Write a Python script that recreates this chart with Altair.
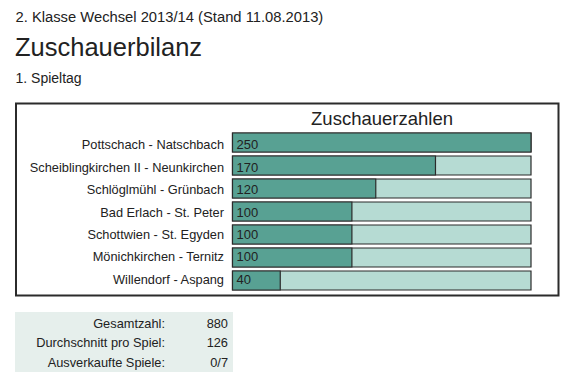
import altair as alt
import pandas as pd

# ---- data ----
matches = [
    "Pottschach - Natschbach",
    "Scheiblingkirchen II - Neunkirchen",
    "Schlöglmühl - Grünbach",
    "Bad Erlach - St. Peter",
    "Schottwien - St. Egyden",
    "Mönichkirchen - Ternitz",
    "Willendorf - Aspang",
]
spectators = [250, 170, 120, 100, 100, 100, 40]
max_value = 250

summary_labels = ["Gesamtzahl:", "Durchschnitt pro Spiel:", "Ausverkaufte Spiele:"]
summary_values = ["880", "126", "0/7"]

supertitle = "2. Klasse Wechsel 2013/14 (Stand 11.08.2013)"
main_title = "Zuschauerbilanz"
subtitle = "1. Spieltag"
chart_title = "Zuschauerzahlen"

FONT = "Liberation Sans, Arial, sans-serif"
DARK = "#58a193"
LIGHT = "#b6dbd3"
EDGE = "#2b2b2b"
TEXT = "#222222"

X0 = 8  # page margin
Y0 = 8


def px(v):
    return v - X0


def py(v):
    return v - Y0


df = pd.DataFrame({"match": matches, "value": spectators})
df["zero"] = 0
df["full"] = max_value
df["label"] = df["value"].astype(str)

sdf = pd.DataFrame({"label": summary_labels, "val": summary_values})

xs = alt.Scale(domain=[0, max_value], range=[px(232.5), px(531)], nice=False, zero=True)
ys = alt.Scale(domain=matches, range=[py(133), py(290)], paddingInner=4 / 23, paddingOuter=0)

base = alt.Chart(df)

frame = alt.Chart(pd.DataFrame({"k": [0]})).mark_rect(
    fill="white", stroke=EDGE, strokeWidth=2
).encode(x=alt.value(px(16)), x2=alt.value(px(558.5)), y=alt.value(py(103.5)), y2=alt.value(py(295.5)))

bg = base.mark_rect(fill=LIGHT, stroke=EDGE, strokeWidth=1.2).encode(
    x=alt.X("zero:Q", scale=xs, axis=None),
    x2="full:Q",
    y=alt.Y("match:N", scale=ys, axis=None, sort=matches),
)

fg = base.mark_rect(fill=DARK, stroke=EDGE, strokeWidth=1.2).encode(
    x=alt.X("zero:Q", scale=xs, axis=None),
    x2="value:Q",
    y=alt.Y("match:N", scale=ys, axis=None, sort=matches),
)

vals = base.mark_text(
    align="left", baseline="middle", dx=4, dy=1, font=FONT, fontSize=13, color=TEXT
).encode(
    x=alt.X("zero:Q", scale=xs, axis=None),
    y=alt.Y("match:N", scale=ys, axis=None, sort=matches),
    text="label:N",
)

names = base.mark_text(
    align="right", baseline="middle", dy=1, font=FONT, fontSize=12.8, color=TEXT
).encode(
    x=alt.value(px(224)),
    y=alt.Y("match:N", scale=ys, axis=None, sort=matches),
    text="match:N",
)

ctitle = alt.Chart(pd.DataFrame({"t": [chart_title]})).mark_text(
    align="center", baseline="alphabetic", font=FONT, fontSize=18.5, color=TEXT
).encode(x=alt.value(px(382)), y=alt.value(py(125)), text="t:N")

t1 = alt.Chart(pd.DataFrame({"t": [supertitle]})).mark_text(
    align="left", baseline="alphabetic", font=FONT, fontSize=14.75, color=TEXT
).encode(x=alt.value(px(15.5)), y=alt.value(py(21.5)), text="t:N")

t2 = alt.Chart(pd.DataFrame({"t": [main_title]})).mark_text(
    align="left", baseline="alphabetic", font=FONT, fontSize=25.5, color=TEXT
).encode(x=alt.value(px(15)), y=alt.value(py(56)), text="t:N")

t3 = alt.Chart(pd.DataFrame({"t": [subtitle]})).mark_text(
    align="left", baseline="alphabetic", font=FONT, fontSize=14, color=TEXT
).encode(x=alt.value(px(15.5)), y=alt.value(py(83)), text="t:N")

panel = alt.Chart(pd.DataFrame({"k": [0]})).mark_rect(fill="#e6efec").encode(
    x=alt.value(px(15)), x2=alt.value(px(233)), y=alt.value(py(312)), y2=alt.value(py(373))
)

sy = alt.Scale(domain=summary_labels, range=[py(323.5), py(363)], type="point", padding=0)

slabels = alt.Chart(sdf).mark_text(
    align="right", baseline="middle", font=FONT, fontSize=12.8, color=TEXT
).encode(
    x=alt.value(px(165)),
    y=alt.Y("label:N", scale=sy, axis=None, sort=summary_labels),
    text="label:N",
)

svals = alt.Chart(sdf).mark_text(
    align="right", baseline="middle", font=FONT, fontSize=12.8, color=TEXT
).encode(
    x=alt.value(px(228)),
    y=alt.Y("label:N", scale=sy, axis=None, sort=summary_labels),
    text="val:N",
)

chart = (
    alt.layer(frame, bg, fg, vals, names, ctitle, t1, t2, t3, panel, slabels, svals)
    .resolve_scale(x="independent", y="independent")
    .properties(
        width=558,
        height=364,
        autosize=alt.AutoSizeParams(type="none"),
        padding=0,
    )
    .configure_view(strokeWidth=0, strokeOpacity=0)
)

chart.save("out.html", embed_options={"renderer": "svg", "actions": False})
